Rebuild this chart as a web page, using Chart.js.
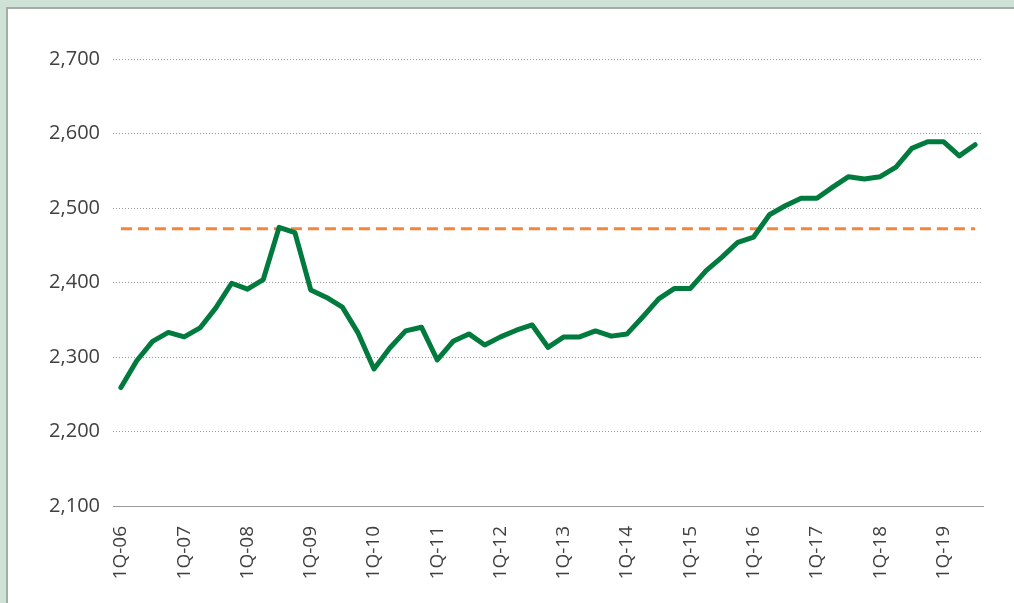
<!DOCTYPE html>
<html>
<head>
<meta charset="utf-8">
<script src="https://cdn.jsdelivr.net/npm/chart.js@4/dist/chart.umd.min.js"></script>
<style>
  html, body { margin: 0; padding: 0; }
  body { width: 1014px; height: 603px; background: #cee3d5; position: relative; overflow: hidden; }
  #panel { position: absolute; left: 6px; top: 7px; width: 1010px; height: 600px; background: #fff;
           border-left: 2px solid #a3aca6; border-top: 2px solid #a3aca6; }
  #chart { position: absolute; left: 0; top: 0; }
</style>
</head>
<body>
<div id="panel"></div>
<canvas id="chart" width="1014" height="603"></canvas>
<script>
// quarters 1Q-06 .. 3Q-19
var years = ['06','07','08','09','10','11','12','13','14','15','16','17','18','19'];
var quarters = [];
years.forEach(function (y) {
    for (var q = 1; q <= 4; q++) quarters.push(q + 'Q-' + y);
});
quarters = quarters.slice(0, 55);

// main series
var seriesValues = [
    2259, 2295, 2321, 2333, 2327, 2339, 2366, 2399, 2391, 2404,
    2474, 2467, 2390, 2380, 2367, 2332, 2284, 2312, 2335, 2340,
    2296, 2321, 2331, 2316, 2327, 2336, 2343, 2313, 2327, 2327,
    2335, 2328, 2331, 2354, 2378, 2392, 2392, 2416, 2434, 2454,
    2461, 2491, 2503, 2513, 2513, 2528, 2542, 2539, 2542, 2555,
    2580, 2589, 2589, 2570, 2585
];

// reference level (dashed)
var refLevel = 2472;
var refValues = quarters.map(function () { return refLevel; });

var yTicks = [2100, 2200, 2300, 2400, 2500, 2600, 2700];

var ctx = document.getElementById('chart').getContext('2d');
var chart = new Chart(ctx, {
    type: 'line',
    data: {
        labels: quarters,
        datasets: [{
            data: seriesValues,
            borderColor: '#007a3d',
            borderWidth: 5,
            pointRadius: 0,
            tension: 0,
            borderJoinStyle: 'round',
            borderCapStyle: 'round',
            order: 1
        }, {
            data: refValues,
            borderColor: '#f5843c',
            borderWidth: 3,
            borderDash: [11, 6],
            pointRadius: 0,
            order: 2
        }]
    },
    options: {
        responsive: false,
        animation: false,
        layout: { padding: { left: 0, right: 31, top: 59, bottom: 0 } },
        plugins: { legend: { display: false }, tooltip: { enabled: false } },
        scales: {
            x: {
                offset: true,
                grid: { display: false, drawTicks: false },
                border: { display: true, color: '#9a9a9a', width: 1 },
                ticks: {
                    autoSkip: false,
                    minRotation: 90,
                    maxRotation: 90,
                    padding: 20,
                    color: '#404040',
                    font: { family: 'Open Sans', size: 19 },
                    callback: function (v, i) {
                        var lab = quarters[i];
                        return lab.indexOf('1Q') === 0 ? lab : '';
                    }
                },
                afterFit: function (scale) {
                    scale.height = 97;
                    scale.paddingLeft = 0;
                    scale.paddingRight = 0;
                }
            },
            y: {
                min: 2100,
                max: 2700,
                afterBuildTicks: function (scale) {
                    scale.ticks = yTicks.map(function (v) { return { value: v }; });
                },
                grid: { color: '#9a9a9a', lineWidth: 1, drawTicks: false },
                border: { display: false, dash: [1, 2] },
                ticks: {
                    padding: 13,
                    color: '#404040',
                    font: { family: 'Open Sans', size: 20 },
                    callback: function (v) { return v.toLocaleString('en-US'); }
                },
                afterFit: function (scale) { scale.width = 113; }
            }
        }
    }
});
</script>
</body>
</html>
